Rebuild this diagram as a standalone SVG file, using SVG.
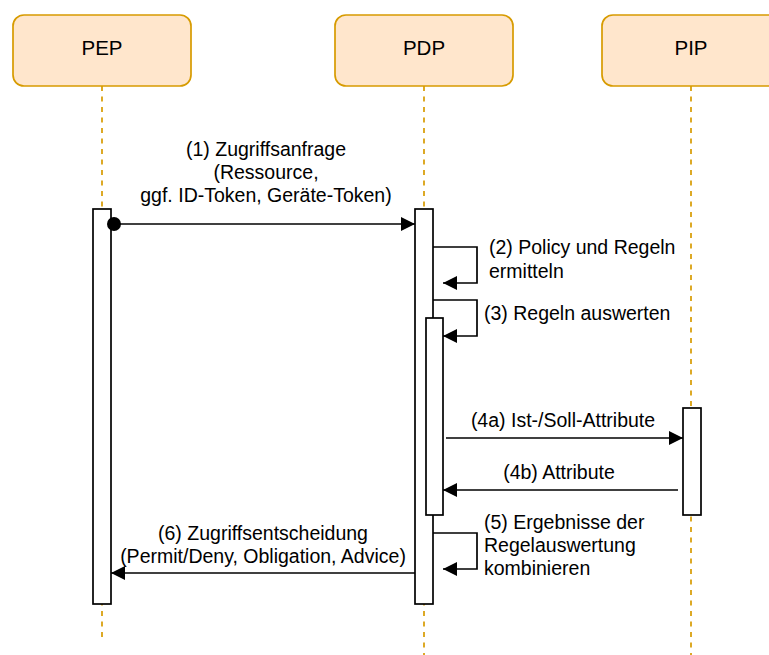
<svg xmlns="http://www.w3.org/2000/svg" width="769" height="655" viewBox="0 0 769 655">
<style>
.head{fill:#ffe6cc;stroke:#d79b00;stroke-width:1.7}
.life{stroke:#d79b00;stroke-width:1.7;stroke-dasharray:5 5.5;fill:none}
.act{fill:#ffffff;stroke:#000000;stroke-width:1.7}
.msg{fill:none;stroke:#000000;stroke-width:1.7}
.ht{font-family:"Liberation Sans",Arial,sans-serif;font-size:20.5px;fill:#000;text-anchor:middle}
.lt{font-family:"Liberation Sans",Arial,sans-serif;font-size:19.5px;fill:#000}
.c{text-anchor:middle}
</style>
<defs>
<marker id="arr" viewBox="0 0 14 14" refX="14" refY="7" markerWidth="14" markerHeight="14" markerUnits="userSpaceOnUse" orient="auto">
<path d="M0,0 L14,7 L0,14 Z" fill="#000"/>
</marker>
</defs>
<g id="lifelines">
<line class="life" x1="102" y1="86" x2="102" y2="638"/>
<line class="life" x1="424" y1="86" x2="424" y2="655"/>
<line class="life" x1="691" y1="86" x2="691" y2="655"/>
</g>
<g id="PEP">
<rect class="head" x="13" y="15" width="178" height="71" rx="11"/>
<text class="ht" x="102" y="55">PEP</text>
<rect class="act" x="93" y="209" width="18" height="395"/>
</g>
<g id="PDP">
<rect class="head" x="335" y="15" width="178" height="71" rx="11"/>
<text class="ht" x="424" y="55">PDP</text>
<rect class="act" x="415" y="209" width="18" height="395"/>
<rect class="act" x="426" y="318" width="17" height="197"/>
</g>
<g id="PIP">
<rect class="head" x="602" y="15" width="178" height="71" rx="11"/>
<text class="ht" x="691" y="55">PIP</text>
<rect class="act" x="683" y="408" width="18" height="107"/>
</g>
<g id="connectors">
<line class="msg" x1="114" y1="224" x2="415" y2="224" marker-end="url(#arr)"/>
<circle cx="114" cy="224" r="7" fill="#000"/>
<polyline class="msg" points="433,247 477,247 477,283 443,283" marker-end="url(#arr)"/>
<polyline class="msg" points="433,300 477,300 477,336 443,336" marker-end="url(#arr)"/>
<line class="msg" x1="446" y1="438" x2="683" y2="438" marker-end="url(#arr)"/>
<line class="msg" x1="678" y1="490" x2="443" y2="490" marker-end="url(#arr)"/>
<polyline class="msg" points="433,533 477,533 477,569 443,569" marker-end="url(#arr)"/>
<line class="msg" x1="415" y1="573" x2="111" y2="573" marker-end="url(#arr)"/>
</g>
<g id="labels">
<text class="lt c" x="266" y="156">(1) Zugriffsanfrage</text>
<text class="lt c" x="266" y="179">(Ressource,</text>
<text class="lt c" x="266" y="202">ggf. ID-Token, Geräte-Token)</text>
<text class="lt" x="489" y="254">(2) Policy und Regeln</text>
<text class="lt" x="489" y="278">ermitteln</text>
<text class="lt" x="484" y="320">(3) Regeln auswerten</text>
<text class="lt c" x="563" y="427">(4a) Ist-/Soll-Attribute</text>
<text class="lt c" x="559" y="479">(4b) Attribute</text>
<text class="lt" x="484" y="529">(5) Ergebnisse der</text>
<text class="lt" x="484" y="552">Regelauswertung</text>
<text class="lt" x="484" y="575">kombinieren</text>
<text class="lt c" x="263" y="540">(6) Zugriffsentscheidung</text>
<text class="lt c" x="263" y="563">(Permit/Deny, Obligation, Advice)</text>
</g>
</svg>
